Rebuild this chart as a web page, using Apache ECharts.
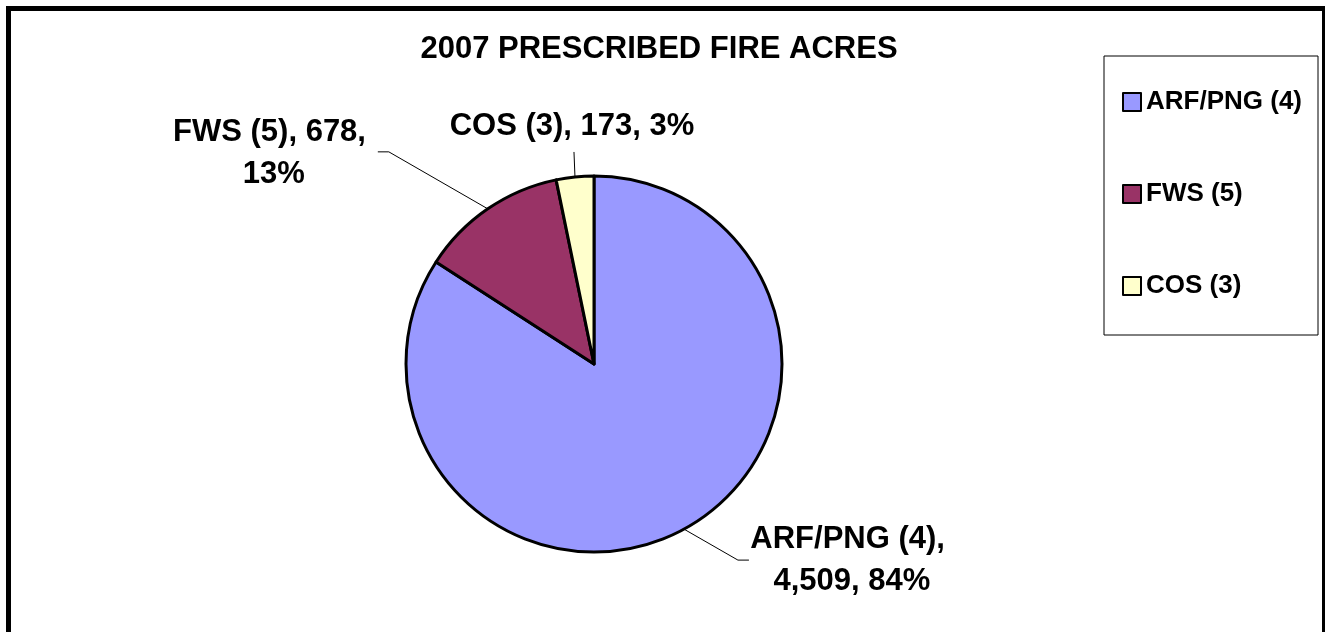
<!DOCTYPE html>
<html><head><meta charset="utf-8">
<script src="https://cdn.jsdelivr.net/npm/echarts@6/dist/echarts.min.js"></script>
<style>html,body{margin:0;padding:0;background:#fff}#c{width:1325px;height:632px}</style>
</head><body><div id="c"></div>
<script>
const chartTitle = '2007 PRESCRIBED FIRE ACRES';
const categories = ['ARF/PNG (4)', 'FWS (5)', 'COS (3)'];
const acres = [4509, 678, 173];
const colors = ['#9999FF', '#993366', '#FFFFCC'];

const FONT = '"Liberation Sans", Arial, sans-serif';
// label-line shape and label offset, relative to the edge point the library computes
const labelGeom = [
  { elbow: [54, 31], tail: 11, text: [103, 0], wrap: 205 },
  { elbow: [-99, -57], tail: -11, text: [-104, 2], wrap: 230 },
  { elbow: [-1, -25], tail: 0, text: [-2, -26], wrap: 320 }
];

const chart = echarts.init(document.getElementById('c'), null, { renderer: 'canvas' });
chart.setOption({
  animation: false,
  backgroundColor: '#fff',
  color: colors,
  graphic: [{
    type: 'rect', silent: true, z: -10,
    shape: { x: 8.5, y: 8.5, width: 1316, height: 700 },
    style: { fill: null, stroke: '#000', lineWidth: 5 }
  }],
  title: {
    text: chartTitle, left: 654, top: 29, textAlign: 'center',
    textStyle: { fontFamily: FONT, fontWeight: 'bold', fontSize: 31, color: '#000' }
  },
  legend: {
    orient: 'vertical', left: 1104, top: 56,
    padding: [33, 16, 36, 18], itemGap: 66, itemWidth: 18, itemHeight: 18,
    borderColor: '#000', borderWidth: 1, icon: 'rect',
    itemStyle: { borderColor: '#000', borderWidth: 2 },
    textStyle: { fontFamily: FONT, fontWeight: 'bold', fontSize: 26, color: '#000', lineHeight: 26 },
    data: categories
  },
  series: [{
    type: 'pie',
    center: [594, 364],
    radius: 188,
    startAngle: 90,
    clockwise: true,
    avoidLabelOverlap: false,
    itemStyle: { borderColor: '#000', borderWidth: 3 },
    label: {
      show: true, position: 'outside',
      fontFamily: FONT, fontWeight: 'bold', fontSize: 31, color: '#000', lineHeight: 42,
      overflow: 'break',
      formatter: function (p) {
        return p.name + ', ' + p.value.toLocaleString('en-US') + ', ' + Math.round(p.percent) + '%';
      }
    },
    labelLine: { show: true, length: 30, length2: 10, lineStyle: { color: '#000', width: 1 } },
    labelLayout: function (params) {
      const g = labelGeom[params.dataIndex];
      const pts = params.labelLinePoints;
      if (!pts) return {};
      const p0 = [pts[0][0], pts[0][1]];
      const p1 = [p0[0] + g.elbow[0], p0[1] + g.elbow[1]];
      const p2 = [p1[0] + g.tail, p1[1]];
      return {
        x: p2[0] + g.text[0], y: p2[1] + g.text[1],
        align: 'center', verticalAlign: 'middle',
        labelLinePoints: [p0, p1, p2]
      };
    },
    emphasis: { disabled: true },
    data: categories.map(function (c, i) {
      return { name: c, value: acres[i], label: { width: labelGeom[i].wrap } };
    })
  }]
});
</script>
</body></html>
